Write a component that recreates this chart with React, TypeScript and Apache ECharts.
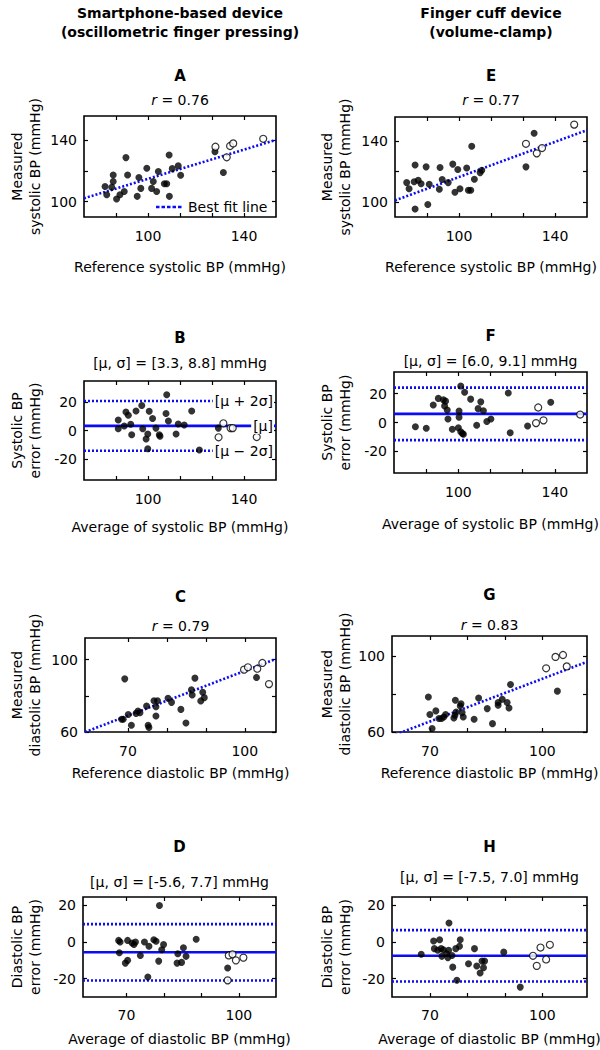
import React, { useEffect, useRef } from 'react';
import * as echarts from 'echarts';

const FONT = '"DejaVu Sans", Verdana, sans-serif';
const BLUE = '#0b0bf5';

// ---------------- data ----------------
// Panel A: smartphone, measured vs reference systolic BP
const aFilled = [[82.1,109.9],[82.8,104.5],[84.9,109.5],[85.5,117.5],[85.5,113.2],[86.9,101.8],[88.3,104.5],[90.1,106.7],[90.8,128.8],[91.5,117.5],[95.5,103.5],[96.2,115.8],[97.0,108.7],[99.5,121.9],[101.5,108.7],[102.2,113.2],[103.6,106.7],[104.3,119.7],[106.8,111.7],[107.8,111.7],[108.8,130.5],[108.9,103.5],[110.1,121.6],[112.6,123.4],[113.6,117.3],[127.9,132.7],[131.4,119.1]];
const aOpen = [[128.1,135.9],[132.8,129.0],[134.2,136.4],[135.5,138.1],[148.0,141.1]];
// Panel E: finger cuff, measured vs reference systolic BP
const eFilled = [[78.2,112.7],[79.2,108.7],[81.3,113.3],[81.7,124.3],[81.7,95.3],[83.0,114.3],[84.2,112.0],[86.3,123.1],[87.0,98.3],[87.6,111.6],[91.8,108.3],[92.1,122.7],[93.0,114.7],[95.5,112.7],[97.4,124.9],[98.3,106.3],[99.5,121.3],[100.4,108.7],[103.2,122.3],[103.9,107.6],[104.9,107.6],[105.3,136.7],[106.4,114.9],[108.8,119.3],[109.5,120.9],[127.9,123.1],[131.3,145.3]];
const eOpen = [[127.9,138.3],[132.4,132.0],[134.6,135.5],[148.0,151.0]];
// Panel B: smartphone, systolic error vs average
const bFilled = [[87.6,7.4],[87.6,1.2],[90.1,3.2],[90.8,13.1],[91.8,10.8],[92.8,4.4],[93.2,-3.0],[95.0,13.8],[97.4,17.7],[97.8,1.2],[99.2,-6.0],[99.9,-2.5],[99.9,-12.9],[100.5,13.6],[101.9,8.5],[103.3,1.7],[104.7,-3.0],[105.0,-4.1],[107.5,12.0],[107.8,25.3],[108.5,6.7],[111.7,-2.5],[112.6,4.6],[115.1,3.9],[118.2,13.8],[121.4,-13.8],[129.3,1.7]];
const bOpen = [[129.4,-4.8],[131.4,5.1],[134.4,1.7],[135.3,1.7],[145.3,-4.6]];
// Panel F: finger cuff, systolic error vs average
const fFilled = [[82.2,-2.9],[86.7,-4.0],[89.6,12.1],[91.7,16.7],[93.8,15.7],[94.7,14.8],[94.3,11.4],[95.4,8.6],[95.7,2.4],[97.5,-4.7],[100.0,-3.6],[100.3,7.9],[100.3,3.6],[101.0,25.3],[101.0,-6.4],[101.7,-7.6],[102.1,-8.1],[102.6,21.0],[105.1,16.2],[107.6,-1.9],[108.2,9.6],[109.3,14.3],[110.4,8.1],[111.8,0.7],[113.5,2.4],[120.7,20.5],[121.5,-7.1],[128.7,-2.4],[138.3,14.0]];
const fOpen = [[133.1,10.4],[132.2,-0.4],[135.3,1.5],[150.5,5.5]];
// Panel C: smartphone, measured vs reference diastolic BP
const cFilled = [[68.4,67.1],[68.8,67.1],[69.2,89.4],[70.1,69.7],[70.9,63.7],[72.1,70.3],[72.6,71.6],[73.1,70.6],[74.8,74.4],[75.2,63.7],[75.4,62.5],[76.7,77.3],[77.2,74.0],[77.2,68.9],[77.6,77.3],[80.3,78.7],[81.2,76.4],[83.6,72.5],[84.9,65.0],[86.3,83.3],[86.5,80.5],[87.2,89.8],[88.7,77.2],[89.2,82.0],[89.6,79.0],[103.0,90.2]];
const cOpen = [[99.8,94.5],[100.8,95.8],[103.2,95.0],[104.5,98.2],[106.2,86.5]];
// Panel G: finger cuff, measured vs reference diastolic BP
const gFilled = [[69.6,78.4],[70.0,69.2],[70.6,61.8],[71.6,71.1],[72.4,67.1],[73.1,67.1],[73.7,67.9],[74.2,69.2],[76.4,67.4],[76.7,68.8],[76.8,76.7],[77.0,70.5],[78.1,73.7],[78.3,74.9],[78.6,70.2],[78.9,67.9],[81.8,66.7],[83.0,77.9],[85.3,72.3],[86.7,64.4],[88.2,75.5],[88.2,74.1],[89.3,77.2],[90.6,75.5],[91.1,72.6],[91.5,85.0],[104.0,81.5]];
const gOpen = [[101.0,93.5],[103.5,99.5],[105.5,100.5],[106.5,94.5]];
// Panel D: smartphone, diastolic error vs average
const dFilled = [[67.9,0.9],[68.3,0.0],[68.1,-5.8],[69.7,-11.5],[70.3,-10.0],[70.3,0.9],[71.5,-0.5],[72.0,-1.3],[72.4,0.0],[73.7,-7.3],[74.8,0.0],[75.7,-19.1],[76.0,-2.3],[77.3,1.3],[77.9,0.4],[78.6,-10.4],[78.8,20.0],[79.4,-4.2],[79.9,-1.4],[83.7,-6.4],[83.5,-11.5],[84.7,-11.1],[85.2,-3.1],[85.9,-7.8],[88.6,1.5],[97.0,-14.2]];
const dOpen = [[97.3,-7.3],[98.3,-6.7],[99.2,-10.0],[101.2,-8.5],[97.0,-20.9]];
// Panel H: finger cuff, diastolic error vs average
const hFilled = [[67.7,-6.7],[71.0,0.6],[71.2,-3.6],[72.1,-4.5],[72.6,1.3],[73.0,-3.6],[73.2,-7.8],[73.6,-4.2],[74.5,-6.4],[74.8,-8.5],[75.0,-4.5],[75.1,10.4],[75.9,-7.3],[76.1,-13.7],[76.9,-3.6],[77.2,-20.9],[77.9,-2.3],[78.1,1.3],[80.3,-11.8],[81.9,-3.6],[82.5,-13.1],[83.4,-16.9],[83.9,-10.4],[84.3,-14.0],[84.6,-10.4],[89.7,-5.5],[94.1,-24.6]];
const hOpen = [[97.5,-7.5],[99.5,-3.0],[102.0,-1.5],[101.0,-9.5],[98.5,-13.0]];

// correlation coefficients (A, E, C, G)
const rValues = [0.76, 0.77, 0.79, 0.83];
// best fit lines [slope, intercept] (A, E, C, G)
const fitA = [0.477, 67.25];
const fitE = [0.58, 58.4];
const fitC = [0.825, 11.3];
const fitG = [0.749, 13.1];
// Bland-Altman stats [mean, sd] (B, F, D, H)
const statsB = [3.3, 8.8];
const statsF = [6.0, 9.1];
const statsD = [-5.6, 7.7];
const statsH = [-7.5, 7.0];
const statLabelNames = ['[μ + 2σ]', '[μ]', '[μ − 2σ]'];
const legendText = 'Best fit line';

// axis ticks / labels
const sysXTicks = [86.67, 100, 113.33, 126.67, 140];
const sysXLabels = [100, 140];
const diaXTicks = [70, 80, 90, 100];
const diaXLabels = [70, 100];
const sysYTicks = [100, 120, 140];
const sysYLabels = [100, 140];
const diaYTicks = [60, 80, 100];
const diaYLabels = [60, 100];
const errYTicks = [-20, 0, 20];
const errYLabels = [-20, 0, 20];

const colHeaders = [
  ['Smartphone-based device', '(oscillometric finger pressing)'],
  ['Finger cuff device', '(volume-clamp)'],
];

// ---------------- layout ----------------
type Panel = {
  letter: string; col: number;
  box: { left: number; top: number; width: number; height: number };
  xRange: number[]; yRange: number[];
  xTicks: number[]; xLabels: number[]; yTicks: number[]; yLabels: number[];
  filled: number[][]; open: number[][];
  fit?: number[]; r?: number; stats?: number[]; statLabels?: boolean; legend?: boolean;
  xTitle: string; yTitle: string;
  letterY: number; subY: number; xTitleY: number; labelMargin: number;
};

const panels: Panel[] = [
  { letter: 'A', col: 0, box: { left: 84, top: 116, width: 192, height: 101 }, xRange: [73.33, 153.33], yRange: [90, 156],
    xTicks: sysXTicks, xLabels: sysXLabels, yTicks: sysYTicks, yLabels: sysYLabels, filled: aFilled, open: aOpen,
    fit: fitA, r: rValues[0], legend: true, xTitle: 'Reference systolic BP (mmHg)', yTitle: 'Measured\nsystolic BP (mmHg)',
    letterY: 76, subY: 100, xTitleY: 267, labelMargin: 12 },
  { letter: 'E', col: 1, box: { left: 395, top: 117, width: 192, height: 100 }, xRange: [73.33, 153.33], yRange: [90, 156],
    xTicks: sysXTicks, xLabels: sysXLabels, yTicks: sysYTicks, yLabels: sysYLabels, filled: eFilled, open: eOpen,
    fit: fitE, r: rValues[1], xTitle: 'Reference systolic BP (mmHg)', yTitle: 'Measured\nsystolic BP (mmHg)',
    letterY: 76, subY: 100, xTitleY: 267, labelMargin: 12 },
  { letter: 'B', col: 0, box: { left: 84, top: 381, width: 192, height: 99 }, xRange: [73.33, 153.33], yRange: [-35, 35],
    xTicks: sysXTicks, xLabels: sysXLabels, yTicks: errYTicks, yLabels: errYLabels, filled: bFilled, open: bOpen,
    stats: statsB, statLabels: true, xTitle: 'Average of systolic BP (mmHg)', yTitle: 'Systolic BP\nerror (mmHg)',
    letterY: 338, subY: 363, xTitleY: 527, labelMargin: 12 },
  { letter: 'F', col: 1, box: { left: 394, top: 372, width: 193, height: 101 }, xRange: [73.33, 153.33], yRange: [-35, 35],
    xTicks: sysXTicks, xLabels: sysXLabels, yTicks: errYTicks, yLabels: errYLabels, filled: fFilled, open: fOpen,
    stats: statsF, xTitle: 'Average of systolic BP (mmHg)', yTitle: 'Systolic BP\nerror (mmHg)',
    letterY: 336, subY: 361, xTitleY: 524, labelMargin: 12 },
  { letter: 'C', col: 0, box: { left: 85, top: 638, width: 191, height: 94 }, xRange: [59, 108], yRange: [60, 112],
    xTicks: diaXTicks, xLabels: diaXLabels, yTicks: diaYTicks, yLabels: diaYLabels, filled: cFilled, open: cOpen,
    fit: fitC, r: rValues[2], xTitle: 'Reference diastolic BP (mmHg)', yTitle: 'Measured\ndiastolic BP (mmHg)',
    letterY: 597, subY: 626, xTitleY: 773, labelMargin: 12 },
  { letter: 'G', col: 1, box: { left: 392, top: 636, width: 195, height: 96 }, xRange: [59.9, 111.9], yRange: [60, 110.5],
    xTicks: diaXTicks, xLabels: diaXLabels, yTicks: diaYTicks, yLabels: diaYLabels, filled: gFilled, open: gOpen,
    fit: fitG, r: rValues[3], xTitle: 'Reference diastolic BP (mmHg)', yTitle: 'Measured\ndiastolic BP (mmHg)',
    letterY: 595, subY: 625, xTitleY: 773, labelMargin: 12 },
  { letter: 'D', col: 0, box: { left: 83, top: 897, width: 193, height: 100 }, xRange: [58.4, 109.9], yRange: [-30, 24.6],
    xTicks: diaXTicks, xLabels: diaXLabels, yTicks: errYTicks, yLabels: errYLabels, filled: dFilled, open: dOpen,
    stats: statsD, xTitle: 'Average of diastolic BP (mmHg)', yTitle: 'Diastolic BP\nerror (mmHg)',
    letterY: 847, subY: 882, xTitleY: 1039, labelMargin: 11 },
  { letter: 'H', col: 1, box: { left: 392, top: 897, width: 195, height: 100 }, xRange: [59.9, 111.9], yRange: [-30, 24.6],
    xTicks: diaXTicks, xLabels: diaXLabels, yTicks: errYTicks, yLabels: errYLabels, filled: hFilled, open: hOpen,
    stats: statsH, xTitle: 'Average of diastolic BP (mmHg)', yTitle: 'Diastolic BP\nerror (mmHg)',
    letterY: 847, subY: 877, xTitleY: 1039, labelMargin: 11 },
];

const colCenters = [180, 491];
const yTitleX = [26, 336];

function txt(x: number, y: number, text: string, font: string, align = 'center', extraStyle: any = {}) {
  return {
    type: 'text', x, y, silent: true, z: 50,
    style: { text, font, fill: '#000', textAlign: align, textVerticalAlign: 'middle', align, verticalAlign: 'middle', ...extraStyle },
  };
}

function buildOption() {
  const grid: any[] = [];
  const xAxis: any[] = [];
  const yAxis: any[] = [];
  const series: any[] = [];
  const graphic: any[] = [];
  const tickStyle = { show: true, inside: true, length: 4, lineStyle: { color: '#000', width: 1.2 } };
  const labelStyle = { fontSize: 14, color: '#000', fontFamily: FONT };
  const noLine = { show: false, onZero: false };
  const dotted = { color: BLUE, width: 2.6, type: [2, 2] };
  const solid = { color: BLUE, width: 2.6, type: 'solid' };

  colHeaders.forEach((lines, c) => {
    graphic.push(txt(colCenters[c], 13, lines[0], `bold 14px ${FONT}`));
    graphic.push(txt(colCenters[c], 32, lines[1], `bold 14px ${FONT}`));
  });

  panels.forEach((p, i) => {
    const b = p.box;
    grid.push({ left: b.left, top: b.top, width: b.width, height: b.height, show: true, borderColor: '#000', borderWidth: 1.6, backgroundColor: 'transparent' });
    const xi = xAxis.length;
    xAxis.push({ gridIndex: i, type: 'value', position: 'bottom', min: p.xRange[0], max: p.xRange[1],
      axisLine: noLine, splitLine: { show: false },
      axisTick: { ...tickStyle, customValues: p.xTicks },
      axisLabel: { ...labelStyle, margin: p.labelMargin, customValues: p.xLabels } });
    xAxis.push({ gridIndex: i, type: 'value', position: 'top', min: p.xRange[0], max: p.xRange[1],
      axisLine: noLine, splitLine: { show: false },
      axisTick: { ...tickStyle, customValues: p.xTicks }, axisLabel: { show: false } });
    const yi = yAxis.length;
    yAxis.push({ gridIndex: i, type: 'value', position: 'left', min: p.yRange[0], max: p.yRange[1],
      axisLine: noLine, splitLine: { show: false },
      axisTick: { ...tickStyle, customValues: p.yTicks },
      axisLabel: { ...labelStyle, margin: 7, customValues: p.yLabels } });
    yAxis.push({ gridIndex: i, type: 'value', position: 'right', min: p.yRange[0], max: p.yRange[1],
      axisLine: noLine, splitLine: { show: false },
      axisTick: { ...tickStyle, customValues: p.yTicks }, axisLabel: { show: false } });

    const x0 = p.xRange[0], x1 = p.xRange[1];
    if (p.fit) {
      const [a, c0] = p.fit;
      series.push({ type: 'line', name: 'fit ' + p.letter,
        xAxisIndex: xi, yAxisIndex: yi, data: [[x0, a * x0 + c0], [x1, a * x1 + c0]],
        symbol: 'none', showSymbol: false, clip: true, z: 1, silent: true,
        itemStyle: { color: BLUE }, lineStyle: dotted });
    }
    if (p.stats) {
      const [mu, sd] = p.stats;
      const levels = [mu + 2 * sd, mu, mu - 2 * sd];
      levels.forEach((v, k) => {
        series.push({ type: 'line', name: `stat ${p.letter} ${k}`, xAxisIndex: xi, yAxisIndex: yi,
          data: [[x0, v], [x1, v]], symbol: 'none', showSymbol: false, clip: true, z: 1, silent: true,
          itemStyle: { color: BLUE }, lineStyle: k === 1 ? solid : dotted });
      });
    }

    series.push({ type: 'scatter', name: 'filled ' + p.letter, xAxisIndex: xi, yAxisIndex: yi,
      data: p.filled, symbol: 'circle', symbolSize: 7, itemStyle: { color: '#000' }, z: 3, silent: true });
    series.push({ type: 'scatter', name: 'open ' + p.letter, xAxisIndex: xi, yAxisIndex: yi,
      data: p.open, symbol: 'circle', symbolSize: 7, itemStyle: { color: '#fff', borderColor: '#000', borderWidth: 1.2 }, z: 3, silent: true });

    if (p.legend) {
      const ly = b.top + b.height - 10;
      const lx = b.left + 72;
      graphic.push({ type: 'line', silent: true, z: 50, shape: { x1: lx, y1: ly, x2: lx + 27, y2: ly },
        style: { stroke: BLUE, lineWidth: 2.6, lineDash: [3.5, 2] } });
      graphic.push(txt(lx + 32, ly, legendText, `14px ${FONT}`, 'left'));
    }

    const cx = b.left + b.width / 2;
    graphic.push(txt(cx, p.letterY, p.letter, `bold 15px ${FONT}`));
    if (p.r !== undefined) {
      graphic.push({ type: 'text', x: cx, y: p.subY, silent: true,
        style: { text: `{i|r} = ${p.r.toFixed(2)}`, font: `14px ${FONT}`, fill: '#000', textAlign: 'center', textVerticalAlign: 'middle', align: 'center', verticalAlign: 'middle',
          rich: { i: { fontStyle: 'italic', fontSize: 14, fontFamily: FONT, fill: '#000' } } } });
    }
    if (p.stats) {
      const [mu, sd] = p.stats;
      graphic.push(txt(cx, p.subY, `[μ, σ] = [${mu.toFixed(1)}, ${sd.toFixed(1)}] mmHg`, `14px ${FONT}`));
    }
    graphic.push(txt(cx, p.xTitleY, p.xTitle, `14px ${FONT}`));
    graphic.push({ type: 'text', x: yTitleX[p.col], y: b.top + b.height / 2, rotation: Math.PI / 2, silent: true,
      style: { text: p.yTitle, font: `14px ${FONT}`, fill: '#000', textAlign: 'center', textVerticalAlign: 'middle', align: 'center', verticalAlign: 'middle', lineHeight: 18 } });
  });

  return {
    animation: false,
    backgroundColor: '#fff',
    textStyle: { fontFamily: FONT },
    grid, xAxis, yAxis, series, graphic,
  };
}

// stat labels placed through the chart's own coordinate conversion
function statLabelGraphics(chart: any) {
  const out: any[] = [];
  panels.forEach((p, i) => {
    if (!p.stats || !p.statLabels) return;
    const [mu, sd] = p.stats;
    const vals = [mu + 2 * sd, mu, mu - 2 * sd];
    vals.forEach((v, k) => {
      const pt = chart.convertToPixel({ gridIndex: i }, [p.xRange[1], v]);
      if (!pt) return;
      out.push(txt(pt[0] - 2, pt[1], statLabelNames[k], `14px ${FONT}`, 'right',
        { backgroundColor: '#fff', padding: [1, 1, 1, 2] }));
    });
  });
  return out;
}

export default function App() {
  const ref = useRef<HTMLDivElement>(null);
  useEffect(() => {
    if (!ref.current) return;
    const chart = echarts.init(ref.current, undefined, { renderer: 'svg' });
    const option: any = buildOption();
    chart.setOption(option);
    const extra = statLabelGraphics(chart);
    chart.setOption({ graphic: [...option.graphic, ...extra] });
    return () => chart.dispose();
  }, []);
  return <div ref={ref} style={{ position: 'absolute', left: 0, top: 0, width: 600, height: 1050, background: '#fff' }} />;
}
